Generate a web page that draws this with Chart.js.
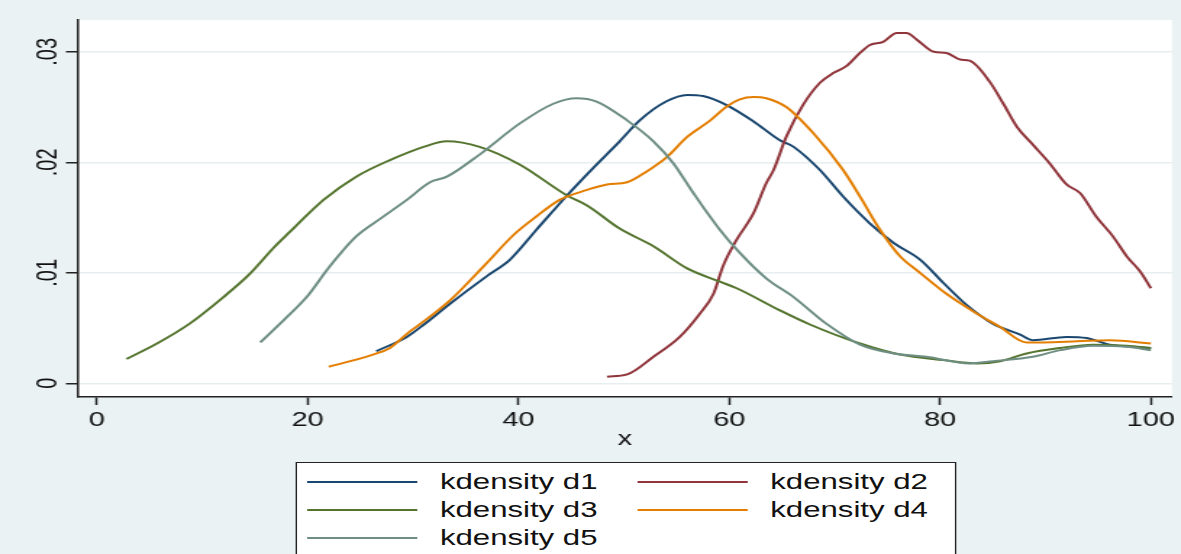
<!DOCTYPE html>
<html>
<head>
<meta charset="utf-8">
<script src="https://cdn.jsdelivr.net/npm/chart.js@4"></script>
<style>
    html, body { margin: 0; padding: 0; background: #eaf2f3; overflow: hidden; }
    body { width: 1181px; height: 554px; position: relative; }
    #wrap {
        position: absolute; left: 0; top: 0;
        width: 815px; height: 554px;
        transform: scaleX(1.449); transform-origin: 0 0;
    }
    #c { position: absolute; left: 0; top: 0; }
    #legend {
        position: absolute; left: 203.6px; top: 462px;
        width: 454px; height: 120px;
        background: #fff; border: 1.5px solid #222;
        font-family: "Liberation Sans", Arial, sans-serif; font-size: 21.5px; color: #111;
    }
    .item { position: absolute; height: 28px; line-height: 28px; white-space: nowrap; }
    .item .ln { position: absolute; left: 0; top: 13px; width: 76px; height: 2px; }
    .item .tx { position: absolute; left: 92px; top: 0; }
</style>
</head>
<body>
<div id="wrap">
    <canvas id="c" width="815" height="460"></canvas>
    <div id="legend"></div>
</div>
<script>
// kdensity curves
const d1x = [26.5, 29.4, 31.0, 33.5, 37.0, 39.2, 41.7, 44.6, 47.1, 49.6, 51.5, 54.0, 56.0, 57.5, 59.7, 62.3, 64.8, 66.1, 68.6, 70.8, 73.3, 75.6, 78.1, 80.3, 82.5, 85.0, 87.6, 88.8, 92.0, 93.9, 96.1, 100];
const d1y = [.0029, .0042, .0053, .0072, .0097, .0112, .0139, .0170, .0195, .0219, .0238, .0255, .0261, .0260, .0252, .0237, .0220, .0214, .0193, .0169, .0145, .0127, .0112, .0091, .0071, .0054, .0044, .0039, .0042, .0041, .0035, .0032];

const d2x = [48.4, 50.3, 52.8, 55.3, 57.2, 58.5, 59.4, 60.7, 62.3, 63.5, 64.2, 65.4, 67.0, 68.6, 69.9, 71.1, 72.4, 73.3, 74.6, 75.9, 76.8, 77.8, 79.4, 80.6, 81.9, 82.8, 84.7, 86.0, 87.3, 88.8, 90.4, 92.0, 93.3, 94.8, 96.4, 97.7, 99.0, 100];
const d2y = [.0006, .0008, .0024, .0042, .0063, .0081, .0106, .0130, .0154, .0181, .0193, .0223, .0252, .0272, .0281, .0287, .0299, .0306, .0309, .0317, .0317, .0311, .0300, .0299, .0293, .0292, .0273, .0253, .0232, .0216, .0199, .0180, .0172, .0151, .0133, .0115, .0101, .0086];

const d3x = [2.8, 5.7, 8.8, 12.0, 14.5, 16.7, 18.3, 21.5, 24.6, 27.8, 31.0, 33.2, 36.3, 40.1, 44.6, 46.5, 49.6, 52.8, 56.0, 59.1, 60.7, 64.8, 67.7, 72.4, 76.2, 80.3, 83.5, 85.7, 88.2, 91.4, 94.5, 97.7, 100];
const d3y = [.0022, .0036, .0054, .0078, .0099, .0122, .0137, .0166, .0187, .0202, .0214, .0219, .0214, .0198, .0170, .0161, .0140, .0124, .0104, .0092, .0086, .0066, .0053, .0036, .0026, .0021, .0018, .0020, .0027, .0032, .0035, .0034, .0032];

const d4x = [22.0, 26.2, 27.8, 29.7, 31.0, 33.5, 37.0, 39.5, 41.7, 43.9, 46.5, 48.4, 50.3, 52.2, 54.1, 56.0, 58.2, 59.7, 61.0, 62.3, 63.5, 65.4, 68.0, 70.8, 72.4, 74.3, 76.2, 78.1, 80.6, 83.5, 85.7, 88.2, 89.8, 93.0, 96.1, 100];
const d4y = [.0015, .0026, .0032, .0047, .0056, .0075, .0109, .0134, .0151, .0166, .0175, .0180, .0182, .0192, .0205, .0223, .0238, .0250, .0257, .0259, .0258, .0250, .0226, .0193, .0169, .0139, .0115, .0100, .0081, .0063, .0051, .0037, .0037, .0038, .0039, .0036];

const d5x = [15.5, 17.7, 19.9, 22.1, 24.6, 26.9, 29.4, 31.6, 33.2, 36.3, 40.1, 43.3, 45.5, 47.4, 50.3, 52.8, 54.7, 56.6, 59.1, 61.0, 63.5, 66.1, 69.2, 72.4, 75.6, 78.7, 82.8, 85.0, 88.8, 91.4, 94.5, 97.7, 100];
const d5y = [.0037, .0057, .0078, .0106, .0133, .0149, .0166, .0182, .0187, .0207, .0235, .0253, .0258, .0255, .0238, .0219, .0199, .0172, .0139, .0118, .0095, .0078, .0054, .0035, .0027, .0024, .0018, .0020, .0024, .0030, .0034, .0033, .0030];

const seriesNames = ['kdensity d1', 'kdensity d2', 'kdensity d3', 'kdensity d4', 'kdensity d5'];
const seriesColors = ['#1a476f', '#90353b', '#55752f', '#e37e00', '#6e8e84'];

const xTicks = [0, 20, 40, 60, 80, 100];
const yTicks = [0, .01, .02, .03];
const yLabels = ['0', '.01', '.02', '.03'];

const xs = [d1x, d2x, d3x, d4x, d5x];
const ys = [d1y, d2y, d3y, d4y, d5y];

const plotBg = {
    id: 'plotBg',
    beforeDraw(chart) {
        const a = chart.chartArea, ctx = chart.ctx;
        ctx.save();
        ctx.fillStyle = '#ffffff';
        ctx.fillRect(a.left, a.top, a.right - a.left, a.bottom - a.top);
        ctx.restore();
    }
};

const font = 'Liberation Sans, Arial, sans-serif';

const chart = new Chart(document.getElementById('c'), {
    type: 'line',
    data: {
        datasets: seriesNames.map((name, i) => ({
            label: name,
            data: xs[i].map((x, j) => ({ x: x, y: ys[i][j] })),
            borderColor: seriesColors[i],
            borderWidth: 2,
            pointRadius: 0,
            cubicInterpolationMode: 'monotone',
            fill: false,
            order: 5 - i
        }))
    },
    options: {
        responsive: false,
        animation: false,
        layout: { padding: { top: 20, right: 6.2, bottom: 0, left: 0 } },
        plugins: { legend: { display: false }, tooltip: { enabled: false } },
        scales: {
            x: {
                type: 'linear',
                min: -1.8,
                max: 102,
                afterBuildTicks: s => { s.ticks = xTicks.map(v => ({ value: v })); },
                afterFit: s => { s.height = 63; },
                ticks: { color: '#111', font: { family: font, size: 20 }, padding: 3, maxRotation: 0 },
                grid: { drawOnChartArea: false, tickLength: 8, tickColor: '#222', tickWidth: 1.5 },
                border: { color: '#222', width: 1.5 },
                title: { display: true, text: 'x', color: '#111', font: { family: font, size: 20 }, padding: { top: 0, bottom: 9 } }
            },
            y: {
                type: 'linear',
                min: -0.00124,
                max: 0.03288,
                afterBuildTicks: s => { s.ticks = yTicks.map(v => ({ value: v })); },
                afterFit: s => { s.width = 53.8; },
                ticks: {
                    color: '#111', font: { family: font, size: 20 }, padding: -1.5,
                    minRotation: 90, maxRotation: 90, crossAlign: 'center',
                    callback: (v, i) => yLabels[i]
                },
                grid: { color: '#e6eef0', lineWidth: 1.5, tickLength: 8.3, tickColor: '#222', tickWidth: 1.5 },
                border: { color: '#222', width: 1.5 }
            }
        }
    },
    plugins: [plotBg]
});

// legend box, two columns like the original
const legend = document.getElementById('legend');
const spots = [[7, 5], [235, 5], [7, 33], [235, 33], [7, 61]];
chart.data.datasets.forEach((ds, i) => {
    const item = document.createElement('div');
    item.className = 'item';
    item.style.left = spots[i][0] + 'px';
    item.style.top = spots[i][1] + 'px';
    item.innerHTML = `<div class="ln" style="background:${ds.borderColor}"></div><div class="tx">${ds.label}</div>`;
    legend.appendChild(item);
});
</script>
</body>
</html>
